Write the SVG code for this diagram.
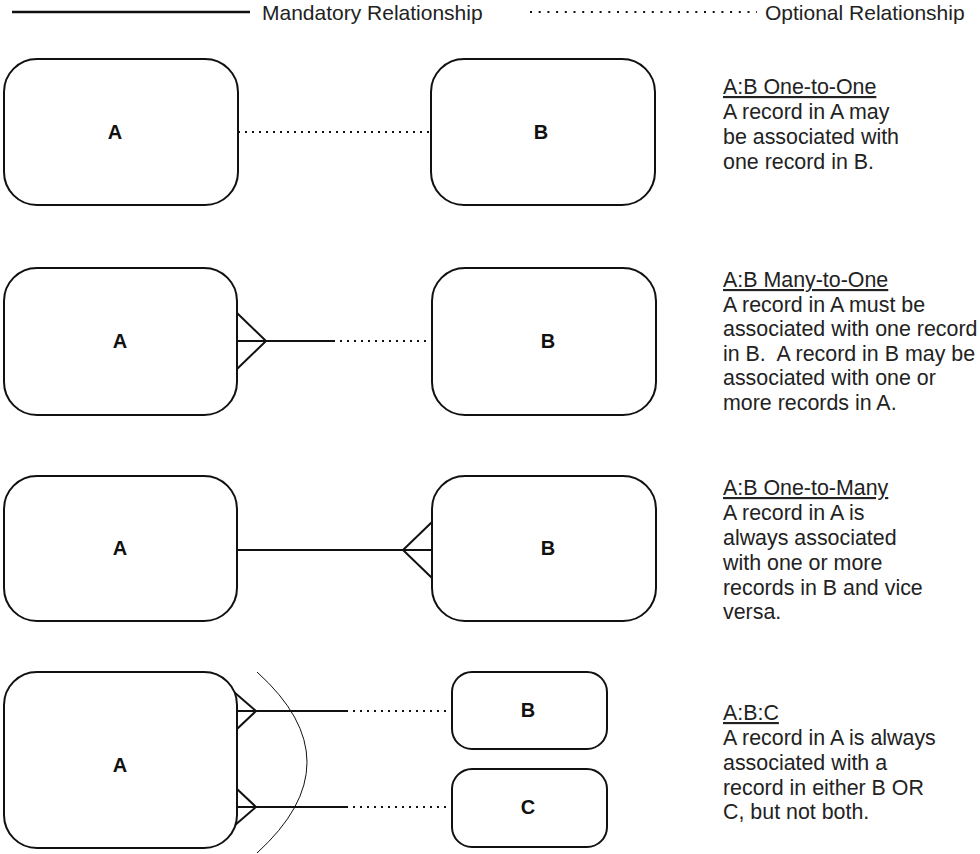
<svg xmlns="http://www.w3.org/2000/svg" width="980" height="854" viewBox="0 0 980 854">
<style>
.box{fill:#fff;stroke:#111;stroke-width:2}
.lbl{font-family:"Liberation Sans",Arial,sans-serif;font-size:20px;font-weight:bold;fill:#111;text-anchor:middle}
.txt{font-family:"Liberation Sans",Arial,sans-serif;font-size:21px;fill:#222}
.desc{font-size:21.4px}
.hd{text-decoration:underline}
.solid{fill:none;stroke:#111;stroke-width:2}
.dot{fill:none;stroke:#111;stroke-width:2;stroke-dasharray:2 5}
.arc{fill:none;stroke:#111;stroke-width:1}
</style>
<g id="legend">
<line x1="12" y1="12" x2="250" y2="12" stroke="#111" stroke-width="2.5"/>
<text class="txt" x="262" y="20">Mandatory Relationship</text>
<line x1="530" y1="12" x2="757" y2="12" stroke="#111" stroke-width="2" stroke-dasharray="2 6.7"/>
<text class="txt" x="765" y="20">Optional Relationship</text>
</g>
<g id="connectors">
<line class="dot" x1="238" y1="132" x2="431" y2="132"/>
<path class="solid" d="M237,313 L266,341 L237,369 M237,341 L333,341"/>
<line class="dot" x1="333" y1="341" x2="432" y2="341"/>
<path class="solid" d="M432,522 L403,550 L432,578 M237,550 L432,550"/>
<path class="solid" d="M234,692 L256,711 L237,729 M237,711 L346,711"/>
<line class="dot" x1="346" y1="711" x2="452" y2="711"/>
<path class="solid" d="M237,789 L256,807 L234,826 M237,807 L346,807"/>
<line class="dot" x1="346" y1="807" x2="452" y2="807"/>
<path class="arc" d="M257,672 Q357,762 257,853"/>
</g>
<g id="r1A"><rect class="box" x="4" y="59" width="234" height="146" rx="33"/><text class="lbl" x="115" y="139">A</text></g>
<g id="r1B"><rect class="box" x="431" y="59" width="224" height="146" rx="33"/><text class="lbl" x="541" y="139">B</text></g>
<g id="r2A"><rect class="box" x="4" y="268" width="233" height="147" rx="33"/><text class="lbl" x="120" y="348">A</text></g>
<g id="r2B"><rect class="box" x="432" y="268" width="224" height="147" rx="33"/><text class="lbl" x="548" y="348">B</text></g>
<g id="r3A"><rect class="box" x="4" y="476" width="233" height="145" rx="33"/><text class="lbl" x="120" y="555">A</text></g>
<g id="r3B"><rect class="box" x="432" y="476" width="224" height="145" rx="33"/><text class="lbl" x="548" y="555">B</text></g>
<g id="r4A"><rect class="box" x="4" y="672" width="233" height="176" rx="33"/><text class="lbl" x="120" y="772">A</text></g>
<g id="r4B"><rect class="box" x="452" y="672" width="155" height="77" rx="20"/><text class="lbl" x="528" y="717">B</text></g>
<g id="r4C"><rect class="box" x="452" y="769" width="155" height="78" rx="20"/><text class="lbl" x="528" y="814">C</text></g>
<g id="desc1" class="txt desc">
<text x="723" y="94" class="hd">A:B One-to-One</text>
<text x="723" y="119">A record in A may</text>
<text x="723" y="144">be associated with</text>
<text x="723" y="169">one record in B.</text>
</g>
<g id="desc2" class="txt desc">
<text x="723" y="287" class="hd">A:B Many-to-One</text>
<text x="723" y="311.5">A record in A must be</text>
<text x="723" y="336">associated with one record</text>
<text x="723" y="360.5" xml:space="preserve">in B.  A record in B may be</text>
<text x="723" y="385">associated with one or</text>
<text x="723" y="409.5">more records in A.</text>
</g>
<g id="desc3" class="txt desc">
<text x="723" y="495" class="hd">A:B One-to-Many</text>
<text x="723" y="520">A record in A is</text>
<text x="723" y="545">always associated</text>
<text x="723" y="570">with one or more</text>
<text x="723" y="595">records in B and vice</text>
<text x="723" y="619">versa.</text>
</g>
<g id="desc4" class="txt desc">
<text x="723" y="720" class="hd">A:B:C</text>
<text x="723" y="745">A record in A is always</text>
<text x="723" y="770">associated with a</text>
<text x="723" y="795">record in either B OR</text>
<text x="723" y="819">C, but not both.</text>
</g>
</svg>
